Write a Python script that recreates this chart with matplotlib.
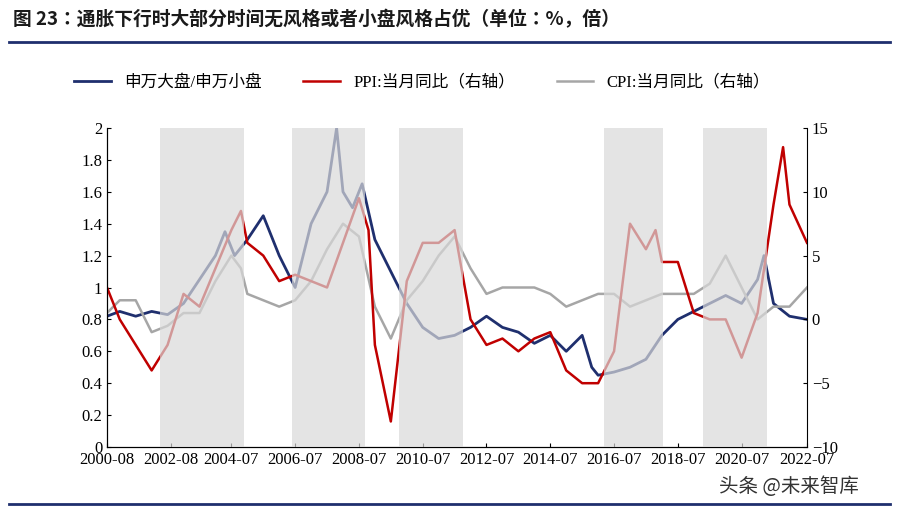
import matplotlib
matplotlib.use("Agg")
import matplotlib.pyplot as plt
from matplotlib import font_manager as fm
import numpy as np

cjk = [f for f in fm.findSystemFonts() if 'CJK' in f and ('Regular' in f or 'Bold' in f)]
cjk_reg = [f for f in cjk if 'Regular' in f] or cjk
cjk_bold = [f for f in cjk if 'Bold' in f] or cjk_reg
for f in cjk: fm.fontManager.addfont(f)
cname = fm.FontProperties(fname=cjk_reg[0]).get_name() if cjk_reg else 'DejaVu Sans'
plt.rcParams['font.family'] = ['Liberation Serif', cname]
print(cjk[:6], cname)

t_ratio = [2000.6,2001,2001.5,2002,2002.5,2003,2003.5,2004,2004.3,2004.6,2005,2005.5,2005.8,2006,2006.5,2007,2007.5,2007.8,2008,2008.3,2008.6,2009,2009.5,2010,2010.5,2011,2011.5,2012,2012.5,2013,2013.5,2014,2014.5,2015,2015.5,2015.8,2016,2016.5,2017,2017.5,2018,2018.5,2019,2019.5,2020,2020.5,2021,2021.2,2021.5,2022,2022.55]
ratio = [0.82,0.85,0.82,0.85,0.83,0.9,1.05,1.2,1.35,1.2,1.3,1.45,1.3,1.2,1.0,1.4,1.6,2.0,1.6,1.5,1.65,1.3,1.1,0.9,0.75,0.68,0.7,0.75,0.82,0.75,0.72,0.65,0.7,0.6,0.7,0.5,0.45,0.47,0.5,0.55,0.7,0.8,0.85,0.9,0.95,0.9,1.05,1.2,0.9,0.82,0.8]
t_ppi = [2000.6,2001,2001.5,2002,2002.5,2003,2003.5,2004,2004.5,2004.8,2005,2005.5,2006,2006.5,2007,2007.5,2008,2008.5,2008.8,2009,2009.5,2010,2010.5,2011,2011.5,2012,2012.5,2013,2013.5,2014,2014.5,2015,2015.5,2016,2016.5,2017,2017.5,2017.8,2018,2018.5,2019,2019.5,2020,2020.5,2021,2021.5,2021.8,2022,2022.55]
ppi = [2.5,0,-2,-4,-2,2,1,4,7,8.5,6,5,3,3.5,3,2.5,6,9.5,7,-2,-8,3,6,6,7,0,-2,-1.5,-2.5,-1.5,-1,-4,-5,-5,-2.5,7.5,5.5,7,4.5,4.5,0.5,0,0,-3,0.5,9,13.5,9,6]
t_cpi = [2000.6,2001,2001.5,2002,2002.5,2003,2003.5,2004,2004.5,2004.8,2005,2005.5,2006,2006.5,2007,2007.5,2008,2008.5,2009,2009.5,2010,2010.5,2011,2011.5,2012,2012.5,2013,2013.5,2014,2014.5,2015,2015.5,2016,2016.5,2017,2017.5,2018,2018.5,2019,2019.5,2020,2020.5,2021,2021.5,2022,2022.55]
cpi = [0.5,1.5,1.5,-1,-0.5,0.5,0.5,3,5,4,2,1.5,1,1.5,3,5.5,7.5,6.5,1,-1.5,1.5,3,5,6.5,4,2,2.5,2.5,2.5,2,1,1.5,2,2,1,1.5,2,2,2,2.8,5,2.5,0,1,1,2.5]
bands = [(2002.27,2004.9),(2006.4,2008.7),(2009.75,2011.75),(2016.2,2018.05),(2019.3,2021.3)]
xtick_pos = [2000.6,2002.6,2004.5,2006.5,2008.5,2010.5,2012.5,2014.5,2016.5,2018.5,2020.5,2022.55]
xtick_lab = ['2000-08','2002-08','2004-07','2006-07','2008-07','2010-07','2012-07','2014-07','2016-07','2018-07','2020-07','2022-07']

fig = plt.figure(figsize=(8.99,5.09), dpi=100)
ax = fig.add_axes([107/899, 1-447/509, 700/899, 319/509])
ax2 = ax.twinx()
l1, = ax.plot(t_ratio, ratio, color='#1f2f6e', lw=2, zorder=2)
l2, = ax2.plot(t_ppi, ppi, color='#c00000', lw=1.8, zorder=2)
l3, = ax2.plot(t_cpi, cpi, color='#a6a6a6', lw=1.8, zorder=1)
for a,b in bands:
    ax2.axvspan(a,b,color='#d9d9d9',alpha=0.7,lw=0,zorder=3)
ax.set_xlim(2000.6,2022.55)
ax.set_ylim(0,2); ax2.set_ylim(-10,15)
ax.set_yticks(np.arange(0,2.01,0.2)); ax.set_yticklabels(['0','0.2','0.4','0.6','0.8','1','1.2','1.4','1.6','1.8','2'])
ax2.set_yticks(range(-10,16,5))
ax.set_xticks(xtick_pos); ax.set_xticklabels(xtick_lab)
for a in (ax,ax2):
    a.tick_params(labelsize=12, direction='in', length=3)
    a.spines['top'].set_visible(False)
ax.spines['right'].set_visible(False)
ax.legend([l1,l2,l3],['申万大盘/申万小盘','PPI:当月同比（右轴）','CPI:当月同比（右轴）'],
          loc='lower center', bbox_to_anchor=(0.45,1.07), ncol=3, frameon=False,
          prop={'family':['Liberation Serif',cname],'size':12}, handlelength=2.2, columnspacing=2.5)
tp = fm.FontProperties(fname=cjk_bold[0], size=13.5) if cjk_bold else fm.FontProperties(size=13.5, weight='bold')
fig.text(0.015, 1-20/509, '图 23：通胀下行时大部分时间无风格或者小盘风格占优（单位：%，倍）',
         fontproperties=tp, color='#1a1a1a', va='center')
fig.add_artist(plt.Line2D([0.01,0.99],[1-42/509]*2, color='#1f2f6e', lw=2))
fig.add_artist(plt.Line2D([0.01,0.99],[1-504/509]*2, color='#1f2f6e', lw=2))
fig.text(0.8, 1-486/509, '头条 @未来智库', fontproperties=fm.FontProperties(fname=cjk_reg[0], size=14) if cjk_reg else None, color='#333333', va='center')
fig.savefig('out.png', dpi=100)
